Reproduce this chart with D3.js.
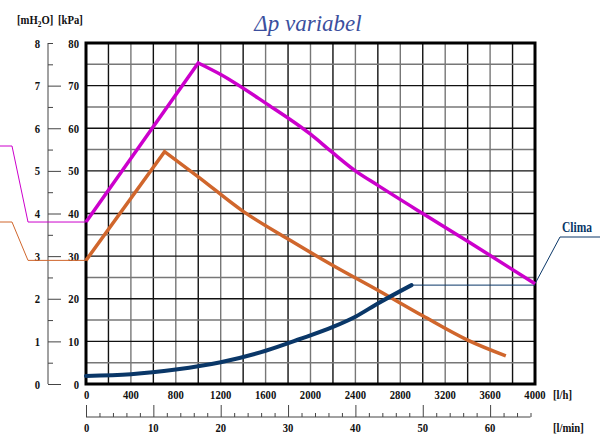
<!DOCTYPE html>
<html>
<head>
<meta charset="utf-8">
<script src="https://cdn.jsdelivr.net/npm/d3@7"></script>
<style>
  body { margin: 0; background: #fff; }
  svg { display: block; }
  .lbl { font-family: "Liberation Serif", "Times New Roman", serif; font-weight: bold; font-size: 13px; fill: #111; }
</style>
</head>
<body>
<div id="chart"></div>
<script>
// pump curves: [flow l/h, head kPa]
const curveMax = [[0, 38], [1000, 75.3], [1200, 72.6], [1600, 65.9], [2000, 58.6], [2200, 54.2], [2400, 50], [2600, 46.6], [3000, 40], [3400, 33.5], [4000, 23.5]];
const curveMin = [[0, 29], [700, 54.5], [1000, 48.6], [1400, 40.5], [1800, 34], [2200, 27.8], [2600, 22], [3000, 16], [3400, 10.3], [3740, 6.6]];
const curveClima = [[0, 1.9], [400, 2.3], [800, 3.4], [1200, 5.1], [1600, 7.8], [1900, 10.5], [2200, 13.4], [2400, 15.8], [2600, 18.9], [2900, 23.2]];

const flowTicks = [0, 400, 800, 1200, 1600, 2000, 2400, 2800, 3200, 3600, 4000];
const kpaTicks = [0, 10, 20, 30, 40, 50, 60, 70, 80];
const mh2oTicks = [0, 1, 2, 3, 4, 5, 6, 7, 8];
const lminTicks = [0, 10, 20, 30, 40, 50, 60];

const title = "Δp variabel";
const climaLabel = "Clima";

const width = 608, height = 434;
const svg = d3.select("#chart").append("svg")
  .attr("width", width).attr("height", height);

const x = d3.scaleLinear().domain([0, 4000]).range([86, 535]);
const y = d3.scaleLinear().domain([0, 80]).range([384, 43]);
const yM = d3.scaleLinear().domain([0, 8]).range([384, 43]);
const xMin = d3.scaleLinear().domain([0, 4000 / 60]).range([86, 535]);

// narrow bold serif label, squeezed horizontally like the original print
function label(parent, px, py, txt, anchor) {
  return parent.append("text")
    .attr("class", "lbl")
    .attr("transform", `translate(${px},${py}) scale(0.82,1)`)
    .attr("text-anchor", anchor || "start")
    .text(txt);
}

// title
svg.append("text")
  .attr("x", 308).attr("y", 31)
  .attr("text-anchor", "middle")
  .style("font-family", "'Liberation Serif', 'Times New Roman', serif")
  .style("font-style", "italic")
  .style("font-size", "23px")
  .style("fill", "#3b4f9e")
  .text(title);

// grid
const grid = svg.append("g");
d3.range(200, 4000, 200).forEach((v, i) => {
  grid.append("line")
    .attr("x1", x(v)).attr("x2", x(v))
    .attr("y1", y(0)).attr("y2", y(80))
    .attr("stroke", i % 2 ? "#777" : "#111")
    .attr("stroke-width", 1.4);
});
d3.range(5, 80, 5).forEach((v) => {
  grid.append("line")
    .attr("x1", x(0)).attr("x2", x(4000))
    .attr("y1", y(v)).attr("y2", y(v))
    .attr("stroke", v % 10 ? "#777" : "#111")
    .attr("stroke-width", 1.4);
});

svg.append("rect")
  .attr("x", x(0)).attr("y", y(80))
  .attr("width", x(4000) - x(0)).attr("height", y(0) - y(80))
  .attr("fill", "none").attr("stroke", "#000").attr("stroke-width", 3);

// kPa labels
kpaTicks.forEach((d) => label(svg, 79, y(d) + 4.5, d, "end"));

// mH2O axis
const yAxis = d3.axisRight(yM).tickValues(d3.range(0, 8.5, 0.5))
  .tickSize(6).tickFormat("");
const ga = svg.append("g").attr("transform", "translate(48,0)").call(yAxis);
ga.select(".domain").attr("d", `M0,${yM(0)}V${yM(8)}`).attr("stroke", "#444");
ga.selectAll(".tick line")
  .attr("x2", (d) => (d % 1 === 0 && d < 8 ? 13 : 5))
  .attr("stroke", "#444");
mh2oTicks.forEach((d) => label(svg, 40, yM(d) + 4.5, d, "end"));

// unit labels
const unitTop = label(svg, 17, 24, "");
unitTop.append("tspan").text("[mH");
unitTop.append("tspan").attr("font-size", "9px").attr("dy", 3).text("2");
unitTop.append("tspan").attr("dy", -3).text("O]");
label(svg, 58, 24, "[kPa]");

// flow l/h labels
flowTicks.forEach((d) => {
  label(svg, d === 0 ? x(d) - 2 : x(d), 399, d, d === 0 ? "start" : "middle");
});
label(svg, 553, 399, "[l/h]");

// l/min axis
const xAxis = d3.axisTop(xMin).tickValues(d3.range(0, 67, 2)).tickSize(4).tickFormat("");
const gb = svg.append("g").attr("transform", "translate(0,417)").call(xAxis);
gb.select(".domain").attr("d", `M${xMin(0)},0H${xMin(66)}`).attr("stroke", "#444");
gb.selectAll(".tick line")
  .attr("y2", (d) => (d % 10 === 0 ? -12 : -4))
  .attr("stroke", "#444");
lminTicks.forEach((d) => {
  label(svg, d === 0 ? xMin(d) - 2 : xMin(d), 432, d, d === 0 ? "start" : "middle");
});
label(svg, 553, 432, "[l/min]");

// leader lines
const lead = d3.line();
svg.append("path")
  .attr("d", lead([[0, 146], [12, 146], [28, y(curveMax[0][1])], [x(0), y(curveMax[0][1])]]))
  .attr("fill", "none").attr("stroke", "#cc00cc").attr("stroke-width", 1);
svg.append("path")
  .attr("d", lead([[0, 222], [12, 222], [28, y(curveMin[0][1])], [x(0), y(curveMin[0][1])]]))
  .attr("fill", "none").attr("stroke", "#d0662c").attr("stroke-width", 1);
const climaEnd = curveClima[curveClima.length - 1];
const maxEnd = curveMax[curveMax.length - 1];
svg.append("path")
  .attr("d", lead([[x(climaEnd[0]), y(climaEnd[1])], [x(4000), y(climaEnd[1])]]))
  .attr("fill", "none").attr("stroke", "#0a3768").attr("stroke-width", 1);
svg.append("path")
  .attr("d", lead([[x(maxEnd[0]), y(maxEnd[1])], [560, 237], [600, 237]]))
  .attr("fill", "none").attr("stroke", "#0a3768").attr("stroke-width", 1);
label(svg, 562, 232, climaLabel).style("fill", "#0a3768").style("font-size", "14px");

// curves: straight rise to the peak, then a smooth falling branch
const smooth = d3.line().x((d) => x(d[0])).y((d) => y(d[1])).curve(d3.curveMonotoneX);
const risingThenSmooth = (d) =>
  smooth(d.slice(1)).replace(/^M/, `M${x(d[0][0])},${y(d[0][1])}L`);

svg.append("path").datum(curveMin)
  .attr("d", risingThenSmooth)
  .attr("fill", "none").attr("stroke", "#d0662c").attr("stroke-width", 3.5);
svg.append("path").datum(curveMax)
  .attr("d", risingThenSmooth)
  .attr("fill", "none").attr("stroke", "#cc00cc").attr("stroke-width", 3.5);
svg.append("path").datum(curveClima)
  .attr("d", smooth)
  .attr("fill", "none").attr("stroke", "#0a3768").attr("stroke-width", 4)
  .attr("stroke-linecap", "round");
</script>
</body>
</html>
